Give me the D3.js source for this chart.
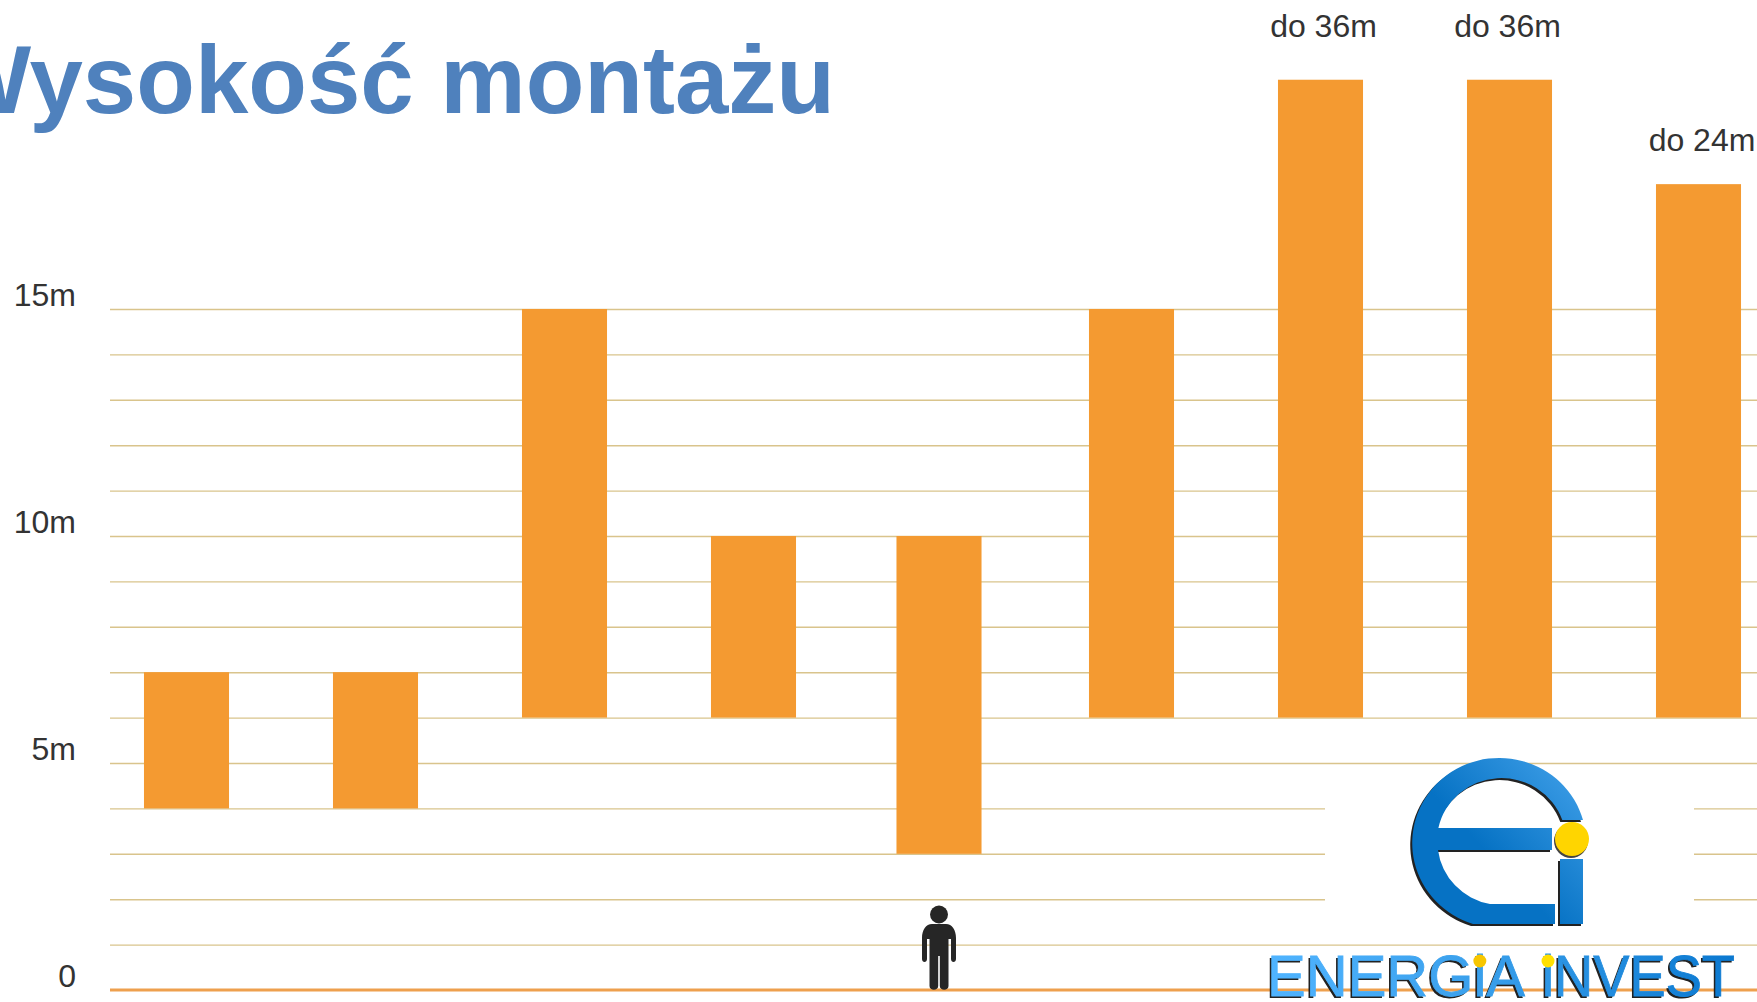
<!DOCTYPE html>
<html>
<head>
<meta charset="utf-8">
<script src="https://cdn.jsdelivr.net/npm/d3@7"></script>
<style>
  html, body { margin: 0; padding: 0; background: #fff; overflow: hidden; }
  svg { display: block; }
</style>
</head>
<body>
<svg id="chart"></svg>
<script>
// wartosci
const categories = ["a", "b", "c", "d", "e", "f", "g", "h", "i"];
const lows = [4, 4, 6, 6, 3, 6, 6, 6, 6];
const highs = [7, 7, 15, 10, 10, 15, 20.05, 20.05, 17.75];
const barLabels = ["", "", "", "", "", "", "do 36m", "do 36m", "do 24m"];
const tickValues = [0, 5, 10, 15];
const tickLabels = ["0", "5m", "10m", "15m"];
const gridValues = [1, 2, 3, 4, 5, 6, 7, 8, 9, 10, 11, 12, 13, 14, 15];

const width = 1757, height = 1002;
const barColor = "#f49a31", gridColor = "#d9c48c", baseColor = "#eea04e", textColor = "#333";
const font = "'Liberation Sans', Arial, sans-serif";

const svg = d3.select("#chart").attr("width", width).attr("height", height)
  .attr("viewBox", [0, 0, width, height]);

const x = d3.scaleBand(categories, [92, 1793]).paddingInner(0.55).paddingOuter(0.275);
const y = d3.scaleLinear([0, 15], [990, 309]);

// korekty polozenia wzgledem rownej siatki
const barNudge = { e: -3.5 };
const labelNudge = { g: 3, h: -2, i: 3.5 };
const barX = c => x(c) + (barNudge[c] || 0);

// linie siatki
svg.append("g")
  .attr("transform", "translate(110,0)")
  .call(d3.axisRight(y).tickValues(gridValues).tickSize(width - 110).tickFormat(""))
  .call(g => g.select(".domain").remove())
  .call(g => g.selectAll(".tick line").attr("stroke", gridColor).attr("stroke-width", 1.4));

// os y
svg.append("g")
  .attr("transform", "translate(110,0)")
  .call(d3.axisLeft(y).tickValues(tickValues).tickSize(0).tickPadding(34)
    .tickFormat((d, i) => tickLabels[i]))
  .call(g => g.select(".domain").remove())
  .call(g => g.selectAll("text")
    .attr("dy", -4)
    .attr("font-family", font).attr("font-size", 32).attr("fill", textColor));

// linia bazowa
svg.append("line")
  .attr("x1", 110).attr("x2", width)
  .attr("y1", y(0)).attr("y2", y(0))
  .attr("stroke", baseColor).attr("stroke-width", 3);

// slupki
svg.append("g").selectAll("rect")
  .data(categories)
  .join("rect")
    .attr("x", d => barX(d))
    .attr("y", (d, i) => y(highs[i]))
    .attr("width", x.bandwidth())
    .attr("height", (d, i) => y(lows[i]) - y(highs[i]))
    .attr("fill", barColor);

// etykiety nad slupkami
svg.append("g").selectAll("text")
  .data(categories.filter((d, i) => barLabels[i]))
  .join("text")
    .attr("x", d => x(d) + x.bandwidth() / 2 + (labelNudge[d] || 0))
    .attr("y", d => y(highs[categories.indexOf(d)]) - (highs[categories.indexOf(d)] > 20 ? 43 : 33))
    .attr("text-anchor", "middle")
    .attr("font-family", font).attr("font-size", 32).attr("fill", textColor)
    .text(d => barLabels[categories.indexOf(d)]);

// tytul, W ucieta na lewej krawedzi
svg.append("text")
  .attr("x", 835).attr("y", 113)
  .attr("text-anchor", "end")
  .attr("font-family", font).attr("font-weight", 700).attr("font-size", 96)
  .attr("fill", "#4f81bd")
  .text("Wysokość montażu");

// sylwetka czlowieka stoi na linii bazowej
const person = svg.append("g")
  .attr("transform", `translate(${barX("e") + x.bandwidth() / 2},${y(0)})`)
  .attr("fill", "#262626");
person.append("circle").attr("cx", 0).attr("cy", -75.5).attr("r", 9);
person.append("path")
  .attr("d", "M-7,-66 H7 C13,-66 17,-60 17,-52 V-31 C17,-27 12,-27 12,-31 V-51 H9.5 V-4 C9.5,1 0.8,1 0.8,-4 V-34 H-0.8 V-4 C-0.8,1 -9.5,1 -9.5,-4 V-51 H-12 V-31 C-12,-27 -17,-27 -17,-31 V-52 C-17,-60 -13,-66 -7,-66 Z");

// logo
const defs = svg.append("defs");
const grad = defs.append("linearGradient").attr("id", "logoBlue")
  .attr("gradientUnits", "userSpaceOnUse")
  .attr("x1", 1440).attr("y1", 900).attr("x2", 1580).attr("y2", 770);
grad.append("stop").attr("offset", "35%").attr("stop-color", "#0672c4");
grad.append("stop").attr("offset", "100%").attr("stop-color", "#3f9fe8");
const gradText = defs.append("linearGradient").attr("id", "logoText")
  .attr("gradientUnits", "userSpaceOnUse")
  .attr("x1", 1266).attr("y1", 0).attr("x2", 1736).attr("y2", 0);
gradText.append("stop").attr("offset", "0%").attr("stop-color", "#50b4ff");
gradText.append("stop").attr("offset", "45%").attr("stop-color", "#3aa0ec");
gradText.append("stop").attr("offset", "100%").attr("stop-color", "#0a78d0");

const logo = svg.append("g");
logo.append("rect").attr("x", 1325).attr("y", 785).attr("width", 369).attr("height", 150).attr("fill", "#fff");

const ePath = "M1583,820 A87,85 0 1 0 1473,924 H1555 V904 H1490 A64,63 0 0 1 1438,850 H1552 V828 H1438.4 A64.5,63 0 0 1 1562.3,820 Z";
const stemPath = "M1560,859 H1583 V924 H1560 Z";
logo.append("path").attr("d", ePath + stemPath).attr("fill", "#222").attr("transform", "translate(-2,2)");
logo.append("path").attr("d", ePath + stemPath).attr("fill", "url(#logoBlue)");
logo.append("circle").attr("cx", 1571).attr("cy", 841).attr("r", 17).attr("fill", "#444");
logo.append("circle").attr("cx", 1572).attr("cy", 839).attr("r", 17).attr("fill", "#ffd500");

// nazwa firmy, dwa slowa osobno zeby trafic w szerokosci z oryginalu
const logoWords = [
  { text: "ENERGiA", x: 1267, len: 258, dot: 5, dotColor: "#f7c600" },
  { text: "iNVEST", x: 1542, len: 193, dot: 0, dotColor: "#ffe000" }
];
logoWords.forEach(w => {
  const attrs = t => t
    .attr("x", w.x).attr("y", 996)
    .attr("font-family", font).attr("font-size", 58)
    .attr("textLength", w.len).attr("lengthAdjust", "spacingAndGlyphs");
  attrs(logo.append("text")).attr("dx", -2).attr("dy", 2).attr("fill", "#222").text(w.text);
  const main = attrs(logo.append("text")).attr("fill", "url(#logoText)")
    .attr("stroke", "url(#logoText)").attr("stroke-width", 0.8).text(w.text);
  // zolta kropka nad litera i
  const box = main.node().getExtentOfChar(w.dot);
  logo.append("circle")
    .attr("cx", box.x + box.width / 2).attr("cy", 961)
    .attr("r", 6.5).attr("fill", w.dotColor);
});
</script>
</body>
</html>
